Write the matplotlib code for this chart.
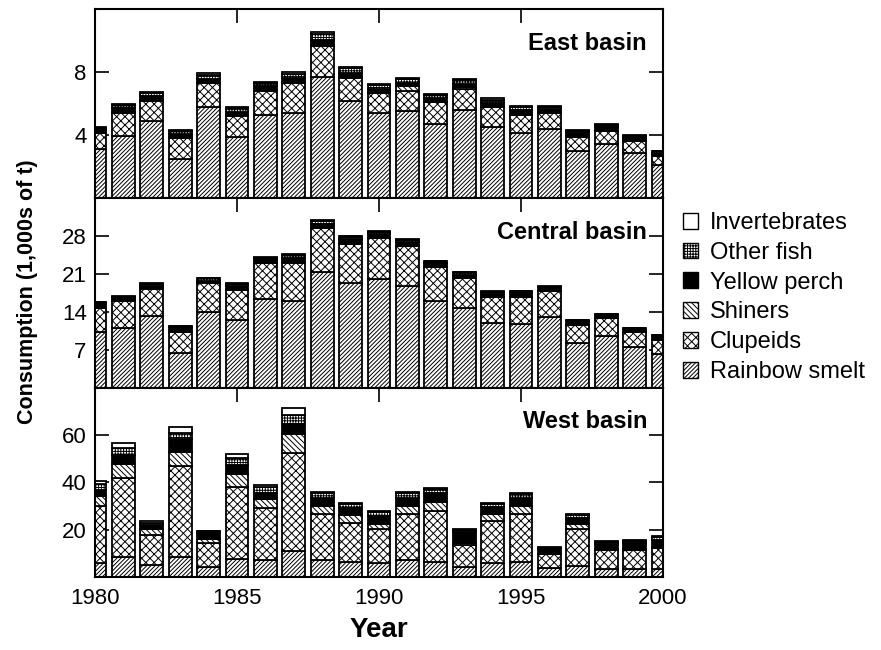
#Stacked consumption by prey type, three basins

import numpy as np
import matplotlib
matplotlib.use("Agg")
import matplotlib.pyplot as plt
from matplotlib.patches import Patch

plt.rcParams['font.family'] = ['Liberation Sans', 'DejaVu Sans']
plt.rcParams['hatch.linewidth'] = 0.7

#Data (1,000s of t)
years = np.arange(1980, 2001)
prey = ["Rainbow smelt", "Clupeids", "Shiners", "Yellow perch", "Other fish", "Invertebrates"]

east_smelt = [3.11, 3.96, 4.89, 2.52, 5.82, 3.87, 5.31, 5.42, 7.70, 6.16, 5.38,
              5.55, 4.70, 5.63, 4.53, 4.13, 4.38, 3.00, 3.47, 2.88, 2.14]
east_clup = [1.00, 1.48, 1.27, 1.31, 1.46, 1.36, 1.50, 1.86, 1.97, 1.48, 1.31,
             1.26, 1.38, 1.33, 1.27, 1.18, 1.06, 0.89, 0.78, 0.76, 0.55]
east_shin = [0.05, 0.05, 0.06, 0.04, 0.06, 0.05, 0.06, 0.08, 0.08, 0.07, 0.05,
             0.32, 0.05, 0.08, 0.05, 0.04, 0.04, 0.04, 0.04, 0.03, 0.03]
east_perch = [0.17, 0.23, 0.24, 0.20, 0.24, 0.22, 0.23, 0.26, 0.28, 0.26, 0.22,
              0.20, 0.20, 0.22, 0.21, 0.28, 0.18, 0.19, 0.20, 0.16, 0.18]
east_other = [0.14, 0.21, 0.21, 0.18, 0.25, 0.20, 0.21, 0.27, 0.37, 0.27, 0.20,
              0.23, 0.20, 0.22, 0.20, 0.15, 0.16, 0.14, 0.15, 0.12, 0.07]
east_inv = [0.06, 0.08, 0.08, 0.07, 0.09, 0.08, 0.08, 0.09, 0.12, 0.10, 0.08,
            0.08, 0.07, 0.08, 0.07, 0.06, 0.06, 0.06, 0.06, 0.05, 0.03]

central_smelt = [10.2, 11.0, 13.2, 6.5, 13.9, 12.5, 16.3, 16.0, 21.4, 19.4, 20.0,
                 18.75, 16.0, 14.8, 12.0, 11.7, 13.0, 8.3, 9.55, 7.6, 6.3]
central_clup = [4.5, 4.95, 5.1, 3.7, 5.5, 5.6, 6.7, 7.1, 8.1, 7.2, 7.6,
                7.45, 6.3, 5.4, 4.8, 5.0, 4.8, 3.3, 3.25, 2.6, 2.5]
central_shin = [0.05, 0.05, 0.05, 0.05, 0.05, 0.05, 0.05, 0.10, 0.05, 0.05, 0.05,
                0.05, 0.05, 0.05, 0.05, 0.05, 0.05, 0.05, 0.05, 0.05, 0.05]
central_perch = [0.85, 0.45, 0.50, 0.90, 0.35, 0.65, 0.50, 0.70, 0.75, 0.80, 0.70,
                 0.70, 0.65, 0.65, 0.55, 1.00, 0.70, 0.70, 0.60, 0.70, 0.70]
central_other = [0.15, 0.40, 0.40, 0.20, 0.40, 0.45, 0.45, 0.70, 0.50, 0.50, 0.50,
                 0.40, 0.35, 0.40, 0.35, 0.10, 0.15, 0.10, 0.10, 0.10, 0.10]
central_inv = [0.05, 0.15, 0.15, 0.05, 0.10, 0.15, 0.20, 0.20, 0.20, 0.15, 0.15,
               0.15, 0.15, 0.10, 0.15, 0.05, 0.05, 0.05, 0.05, 0.05, 0.05]

west_smelt = [6.0, 8.5, 4.9, 8.5, 4.3, 7.8, 7.1, 10.8, 7.1, 6.4, 6.0,
              7.1, 6.4, 4.3, 6.0, 6.4, 3.6, 4.6, 3.3, 3.3, 3.3]
west_clup = [24.0, 33.3, 12.9, 38.2, 10.0, 30.1, 21.9, 41.7, 19.7, 16.6, 14.3,
             19.4, 21.5, 9.4, 17.75, 20.1, 6.0, 15.7, 7.95, 7.95, 8.9]
west_shin = [4.2, 5.8, 2.5, 6.2, 1.8, 5.6, 3.8, 8.0, 3.2, 3.1, 2.3,
             3.5, 3.9, 0.5, 3.05, 3.5, 0.3, 2.3, 0.5, 0.6, 0.6]
west_perch = [2.7, 3.9, 1.8, 5.3, 3.0, 3.9, 2.8, 4.2, 3.3, 3.0, 3.0,
              3.5, 3.5, 5.0, 2.6, 3.5, 2.2, 2.3, 2.3, 2.5, 3.0]
west_other = [2.4, 3.2, 0.8, 2.8, 0.3, 3.0, 2.4, 3.9, 2.0, 1.8, 1.7,
              1.8, 1.9, 0.8, 1.5, 1.5, 0.35, 1.4, 0.7, 0.9, 1.0]
west_inv = [1.1, 2.0, 0.85, 2.2, 0.2, 1.4, 1.0, 2.8, 0.5, 0.5, 0.5,
            0.5, 0.6, 0.3, 0.5, 0.5, 0.15, 0.5, 0.35, 0.4, 0.4]

basins = ["East basin", "Central basin", "West basin"]
east = [east_smelt, east_clup, east_shin, east_perch, east_other, east_inv]
central = [central_smelt, central_clup, central_shin, central_perch, central_other, central_inv]
west = [west_smelt, west_clup, west_shin, west_perch, west_other, west_inv]

ylims = [12, 35, 80]
yticks = [[4, 8], [7, 14, 21, 28], [20, 40, 60]]

#fill colour and hatch for each prey group
fills = ["white", "white", "white", "black", "white", "white"]
hatches = ["////////", "xxxx", "\\\\\\\\\\\\", None, "++++++", None]

fig, axes = plt.subplots(3, 1, figsize=(8.81, 6.5), dpi=100, sharex=True)
fig.subplots_adjust(left=95/881, right=663/881, top=1-9/650, bottom=1-577/650, hspace=0)

for ax, name, data, ymax, yt in zip(axes, basins, [east, central, west], ylims, yticks):
    bottom = np.zeros(len(years))
    for vals, fc, h in zip(data, fills, hatches):
        vals = np.array(vals)
        ax.bar(years, vals, width=0.8, bottom=bottom, color=fc, edgecolor="black",
               hatch=h, linewidth=1.3)
        bottom = bottom + vals
    ax.set_xlim(1980, 2000)
    ax.set_ylim(0, ymax)
    ax.set_yticks(yt)
    #bars sit over the inward ticks, spines stay on top
    ax.set_axisbelow(True)
    ax.text(0.972, 0.82, name, transform=ax.transAxes, ha="right", va="center",
            fontsize=17, fontweight="bold")
    ax.tick_params(direction="in", top=True, right=True, length=10, width=1.2,
                   labelsize=16, pad=6)
    for s in ax.spines.values():
        s.set_linewidth(1.5)
        s.set_zorder(5)

axes[2].set_xticks([1980, 1985, 1990, 1995, 2000])
axes[2].tick_params(axis="x", pad=8)
axes[2].set_xlabel("Year", fontsize=20, fontweight="bold", labelpad=6)
fig.text(28/881, 1-292/650, "Consumption (1,000s of t)", rotation=90, ha="center",
         va="center", fontsize=15.5, fontweight="bold")

#legend, top item first
handles = [Patch(facecolor=fc, edgecolor="black", hatch=h, linewidth=1.0)
           for fc, h in zip(fills, hatches)]
fig.legend(handles[::-1], prey[::-1], loc="upper left", bbox_to_anchor=(683/881, 1-212/650),
           frameon=False, fontsize=17, handlelength=0.65, handleheight=0.65,
           handletextpad=0.5, labelspacing=0.33, borderpad=0, borderaxespad=0)

plt.savefig("out.png", dpi=100)
